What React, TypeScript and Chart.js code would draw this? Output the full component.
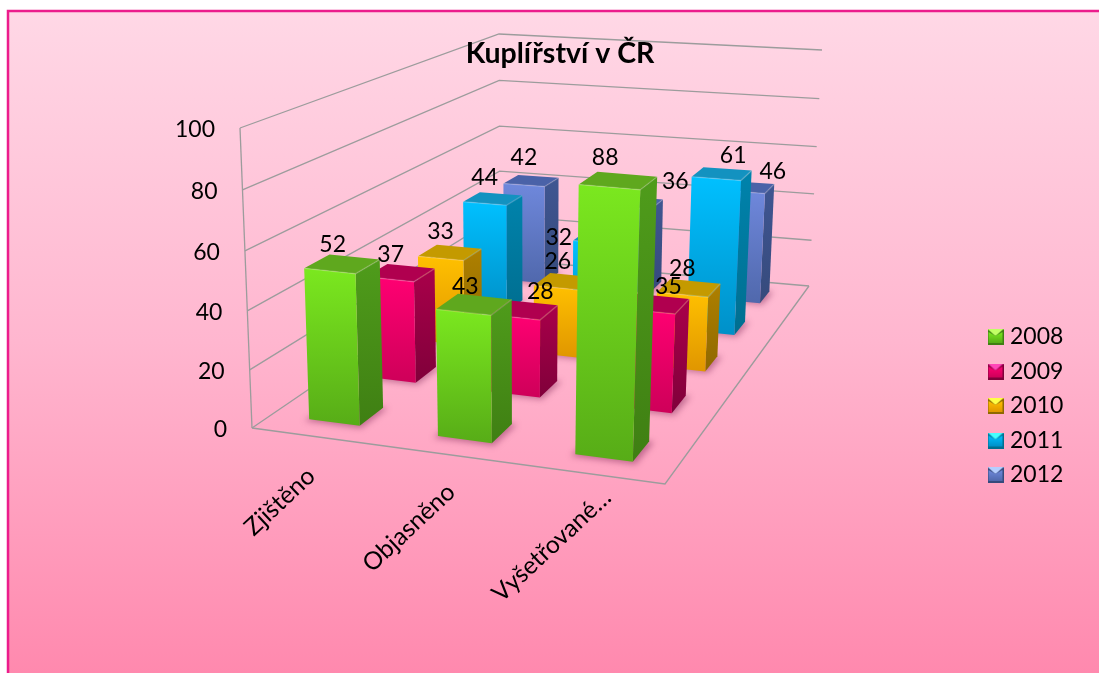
import React, { useEffect, useRef } from "react";
import { Chart, registerables } from "chart.js";

Chart.register(...registerables);

const categories = ["Zjištěno", "Objasněno", "Vyšetřované…"];
const seriesNames = ["2008", "2009", "2010", "2011", "2012"];
const values2008 = [52, 43, 88];
const values2009 = [37, 28, 35];
const values2010 = [33, 26, 28];
const values2011 = [44, 32, 61];
const values2012 = [42, 36, 46];
const seriesValues = [values2008, values2009, values2010, values2011, values2012];
const yTicks = [0, 20, 40, 60, 80, 100];
const chartTitle = "Kuplířství v ČR";

// colours: front top, front bottom, side top, side bottom, top face
const palettes = [
  ["#7BE81F", "#57AC17", "#4F9C1B", "#3F7F13", "#5FA81E"],
  ["#FF0072", "#CE0059", "#A9004A", "#80003A", "#B0004F"],
  ["#FFC000", "#E09600", "#AE8000", "#8F6800", "#C49A00"],
  ["#00C0FF", "#0090C8", "#0083AC", "#006E90", "#1392C0"],
  ["#6F88DC", "#5068AC", "#3F5692", "#364A7C", "#4A62A8"],
];

// hand-placed data label nudges, per series and category
const labelNudges = [
  [[3, 4], [2, 4], [-4, 0]],
  [[1, 5], [26, 4], [21, 5]],
  [[0, 3], [0, 4], [0, 4]],
  [[0, 4], [-37, 25], [17, 7]],
  [[0, 3], [46, 4], [31, 10]],
];

const FONT = "Lato, Carlito, sans-serif";
const W = 1099;
const H = 673;

type Pt = { x: number; y: number };
function quad(p: number[][]) {
  const [[x0, y0], [x1, y1], [x2, y2], [x3, y3]] = p;
  const dx1 = x1 - x2, dx2 = x3 - x2, sx = x0 - x1 + x2 - x3;
  const dy1 = y1 - y2, dy2 = y3 - y2, sy = y0 - y1 + y2 - y3;
  const det = dx1 * dy2 - dx2 * dy1;
  const g = (sx * dy2 - dx2 * sy) / det;
  const h = (dx1 * sy - sx * dy1) / det;
  const a = x1 - x0 + g * x1, b = x3 - x0 + h * x3;
  const d = y1 - y0 + g * y1, e = y3 - y0 + h * y3;
  return (u: number, v: number): Pt => {
    const w = g * u + h * v + 1;
    return { x: (a * u + b * v + x0) / w, y: (d * u + e * v + y0) / w };
  };
}
// box corners: front-left, front-right, back-right, back-left
const floorMap = quad([[252, 428], [665, 484], [809, 286], [500, 259]]);
const ceilMap = quad([[240, 128], [677, 165], [822, 50], [499, 34]]);
const VERTICAL_PERSPECTIVE = 1.04;
const project = (u: number, v: number, h: number): Pt => {
  const a = floorMap(u, v), b = ceilMap(u, v);
  const t = h / (h + (1 - h) * VERTICAL_PERSPECTIVE);
  return { x: a.x + (b.x - a.x) * t, y: a.y + (b.y - a.y) * t };
};

const BAR_U = 0.4 / 3;
const BAR_V = 0.4 / 5;

function poly(ctx: CanvasRenderingContext2D, pts: Pt[], fill: any) {
  ctx.beginPath();
  pts.forEach((p, i) => (i ? ctx.lineTo(p.x, p.y) : ctx.moveTo(p.x, p.y)));
  ctx.closePath();
  ctx.fillStyle = fill;
  ctx.fill();
}
function vgrad(ctx: CanvasRenderingContext2D, y0: number, y1: number, a: string, b: string) {
  const g = ctx.createLinearGradient(0, y0, 0, y1);
  g.addColorStop(0, a);
  g.addColorStop(1, b);
  return g;
}
const normU = (chart: any, i: number) => {
  const x = chart.scales.x;
  return (x.getPixelForValue(i) - x.left) / x.width;
};
const normH = (chart: any, v: number) => {
  const y = chart.scales.y;
  return (y.bottom - y.getPixelForValue(v)) / (y.bottom - y.top);
};
const rowV = (di: number) => (di + 0.5) / seriesNames.length;

function lighten(hex: string) {
  const n = parseInt(hex.slice(1), 16);
  const m = (s: number) => Math.min(255, ((n >> s) & 255) + 70);
  return `rgb(${m(16)},${m(8)},${m(0)})`;
}
function marker(pal: string[]) {
  const c = document.createElement("canvas");
  c.width = 16;
  c.height = 16;
  const g = c.getContext("2d")!;
  g.fillStyle = pal[3];
  g.fillRect(0, 0, 16, 16);
  poly(g, [{ x: 0, y: 0 }, { x: 16, y: 0 }, { x: 8, y: 7 }], lighten(pal[0]));
  g.fillStyle = vgrad(g, 3, 14, pal[0], pal[1]);
  g.beginPath();
  g.moveTo(1, 3); g.lineTo(8, 7); g.lineTo(15, 3); g.lineTo(15, 14); g.lineTo(1, 14);
  g.closePath();
  g.fill();
  return c;
}

const scene = {
  id: "scene",
  beforeDraw(chart: any) {
    const ctx = chart.ctx;
    ctx.save();
    const g = ctx.createLinearGradient(0, 10, 0, H);
    g.addColorStop(0, "#FFD8E6");
    g.addColorStop(0.5, "#FFB6CF");
    g.addColorStop(1, "#FF89AE");
    ctx.fillStyle = g;
    ctx.fillRect(8, 11, W - 8, H - 11);
    ctx.strokeStyle = "#EC1C8C";
    ctx.lineWidth = 2.5;
    ctx.beginPath();
    ctx.moveTo(8, H);
    ctx.lineTo(8, 11);
    ctx.lineTo(W, 11);
    ctx.stroke();
    ctx.restore();

    // walls and floor, at the y scale's tick values
    ctx.save();
    ctx.strokeStyle = "#9C9C9C";
    ctx.lineWidth = 1.3;
    const line = (pts: Pt[]) => {
      ctx.beginPath();
      pts.forEach((p, i) => (i ? ctx.lineTo(p.x, p.y) : ctx.moveTo(p.x, p.y)));
      ctx.stroke();
    };
    yTicks.forEach((t) => {
      const h = normH(chart, t);
      line([project(0, 0, h), project(0, 1, h), project(1, 1, h)]);
    });
    line([project(0, 0, 0), project(0, 0, 1)]);
    line([project(0, 0, 0), project(1, 0, 0), project(1, 1, 0)]);
    ctx.restore();

    // placement of the tick labels along the projected edges
    const ys = chart.scales.y;
    ys.getLabelItems().forEach((it: any, i: number) => {
      const p = project(0, 0, normH(chart, ys.ticks[i].value));
      it.options.translation[0] = p.x - 25;
      it.options.translation[1] = p.y + 1.5;
    });
    const xs = chart.scales.x;
    const xShift = [[-14, 25], [-7, 23], [7, 9]];
    xs.getLabelItems().forEach((it: any, i: number) => {
      const p = project(normU(chart, i), 0, 0);
      it.options.translation[0] = p.x + xShift[i][0];
      it.options.translation[1] = p.y + xShift[i][1];
    });
  },
  afterLayout(chart: any) {
    const l = chart.legend;
    const ch = l.columnSizes[0].height;
    const pad = l.options.labels.padding;
    l.left = 981;
    l.right = W;
    l.top = 406 - ch / 2 - pad;
    l.bottom = 406 + ch / 2 + pad;
  },
  beforeDatasetDraw(chart: any, args: any) {
    const ctx = chart.ctx;
    const di = args.index;
    const pal = palettes[di];
    const v0 = rowV(di) - BAR_V / 2;
    const v1 = rowV(di) + BAR_V / 2;
    ctx.save();
    chart.data.datasets[di].data.forEach((val: number, i: number) => {
      const uc = normU(chart, i);
      const u0 = uc - BAR_U / 2;
      const u1 = uc + BAR_U / 2;
      const h = normH(chart, val);
      const fl0 = project(u0, v0, 0), fr0 = project(u1, v0, 0);
      const br0 = project(u1, v1, 0);
      const fl1 = project(u0, v0, h), fr1 = project(u1, v0, h);
      const br1 = project(u1, v1, h), bl1 = project(u0, v1, h);
      // soft shadow on the floor
      ctx.save();
      ctx.filter = "blur(3px)";
      poly(ctx, [
        project(u0 - 0.006, v0 - 0.008, 0),
        project(u1 + 0.01, v0 - 0.008, 0),
        project(u1 + 0.012, v1, 0),
        project(u0, v1, 0),
      ], "rgba(120,30,80,0.45)");
      ctx.restore();
      poly(ctx, [fl1, fr1, br1, bl1], pal[4]);
      poly(ctx, [fr1, br1, br0, fr0], vgrad(ctx, br1.y, fr0.y, pal[2], pal[3]));
      poly(ctx, [fl1, fr1, fr0, fl0], vgrad(ctx, fl1.y, fr0.y, pal[0], pal[1]));
      // faint bevel along the top edge of the front face
      ctx.strokeStyle = "rgba(255,255,255,0.18)";
      ctx.lineWidth = 1.5;
      ctx.beginPath();
      ctx.moveTo(fl1.x, fl1.y);
      ctx.lineTo(fr1.x, fr1.y);
      ctx.lineTo(br1.x, br1.y);
      ctx.stroke();
    });
    ctx.restore();
    return false;
  },
  afterDatasetsDraw(chart: any) {
    const ctx = chart.ctx;
    ctx.save();
    ctx.font = `23px ${FONT}`;
    ctx.fillStyle = "#000";
    ctx.textAlign = "center";
    ctx.textBaseline = "middle";
    for (let di = seriesNames.length - 1; di >= 0; di--) {
      const v0 = rowV(di) - BAR_V / 2;
      chart.data.datasets[di].data.forEach((val: number, i: number) => {
        const p = project(normU(chart, i), v0, normH(chart, val));
        const [nx, ny] = labelNudges[di][i];
        ctx.fillText(String(val), p.x + nx, p.y - 30 + ny);
      });
    }
    ctx.restore();
  },
};

export default function App() {
  const ref = useRef<HTMLCanvasElement>(null);
  useEffect(() => {
    const chart = new Chart(ref.current!, {
      type: "bar",
      data: {
        labels: categories,
        datasets: seriesNames.map((name, i) => ({
          label: name,
          data: seriesValues[i],
          backgroundColor: palettes[i][0],
        })),
      },
      options: {
        responsive: false,
        animation: false,
        layout: { padding: { left: 170, right: 149, top: 0, bottom: 0 } },
        plugins: {
          tooltip: { enabled: false },
          title: {
            display: true,
            text: chartTitle,
            color: "#000",
            font: { family: FONT, size: 28.5, weight: "bold" },
            padding: { top: 37, bottom: 57 },
          },
          legend: {
            display: true,
            position: "right",
            labels: {
              color: "#000",
              font: { family: FONT, size: 23 },
              usePointStyle: true,
              pointStyleWidth: 6,
              padding: 11.5,
              generateLabels: () =>
                seriesNames.map((name, i) => ({
                  text: name,
                  pointStyle: marker(palettes[i]),
                  fillStyle: palettes[i][0],
                  strokeStyle: palettes[i][0],
                  lineWidth: 0,
                  datasetIndex: i,
                })),
            },
          },
        },
        scales: {
          x: {
            type: "category",
            grid: { display: false },
            border: { display: false },
            afterFit: (s: any) => { s.height = H - 428; },
            ticks: {
              color: "#000",
              font: { family: FONT, size: 24.5 },
              minRotation: 43,
              maxRotation: 43,
              autoSkip: false,
            },
          },
          y: {
            type: "linear",
            min: 0,
            max: 100,
            grid: { display: false },
            border: { display: false },
            afterFit: (s: any) => { s.width = 62; },
            ticks: {
              stepSize: 20,
              color: "#000",
              font: { family: FONT, size: 23 },
            },
          },
        },
      } as any,
      plugins: [scene],
    });
    return () => chart.destroy();
  }, []);
  return (
    <div style={{ position: "absolute", left: 0, top: 0, width: W, height: H }}>
      <canvas ref={ref} width={W} height={H} style={{ display: "block" }} />
    </div>
  );
}
